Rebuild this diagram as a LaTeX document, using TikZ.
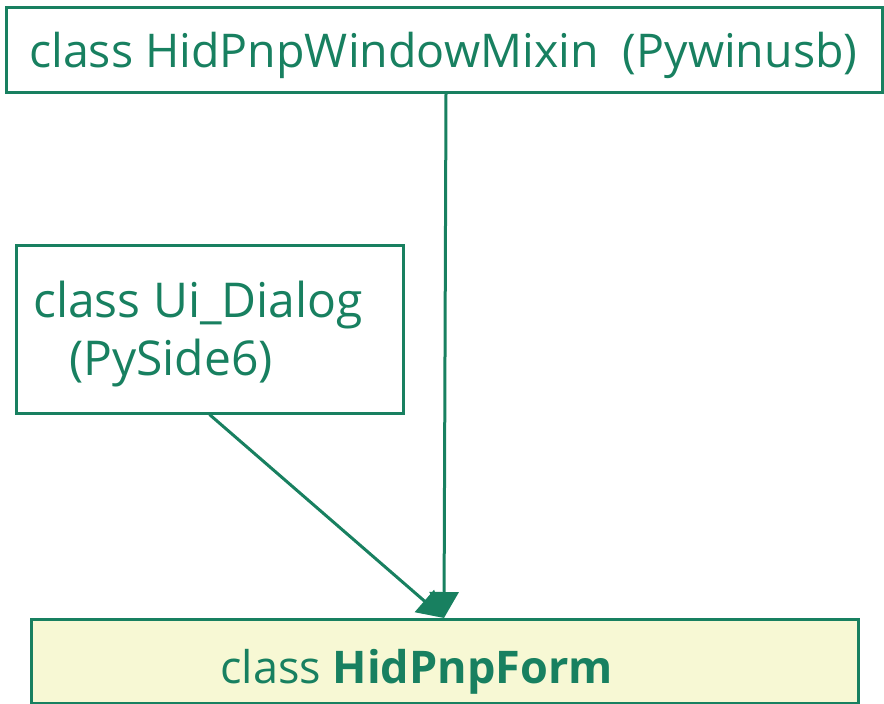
\documentclass[tikz,border=0pt]{standalone}
\usepackage{fontspec}
\setmainfont{Open Sans}
\usetikzlibrary{arrows.meta,calc}
\definecolor{umlgreen}{RGB}{24,128,96}
\definecolor{umlfill}{RGB}{247,248,212}
\tikzset{
  classbox/.style={draw=umlgreen, line width=3pt, inner sep=0pt},
  classname/.style={text=umlgreen, inner sep=0pt, anchor=base west,
    font=\fontsize{#1}{#1}\selectfont},
  link/.style={draw=umlgreen, line width=3pt,
    -{Triangle[length=26pt, width=29pt, fill=umlgreen]}}
}
\begin{document}
\begin{tikzpicture}[x=1pt, y=-1pt]
  \useasboundingbox (0,0) rectangle (884,704);
  % parent classes
  \node[classbox, minimum width=876pt, minimum height=85pt] (mixin) at (444,49.5) {};
  \node[classname=46.5] (mixintext) at (29,67) {class HidPnpWindowMixin\ \ (Pywinusb)};
  \node[classbox, minimum width=387pt, minimum height=168pt] (dialog) at (209.5,329) {};
  \node[classname=48] (dialogtext) at (33,317) {class Ui\_Dialog};
  \node[classname=48] (dialoglib) at (69,375) {(PySide6)};
  % derived class
  \node[classbox, fill=umlfill, minimum width=827pt, minimum height=84pt] (form) at (444.5,661) {};
  \node[classname=45] (formtext) at (220,683) {class \textbf{HidPnpForm}};
  \coordinate (tip) at (444,618);
  % inheritance links
  \draw[link] ($(mixin.south)+(2,0)$) -- (tip);
  \draw[link] (dialog.south) -- (tip);
\end{tikzpicture}
\end{document}
